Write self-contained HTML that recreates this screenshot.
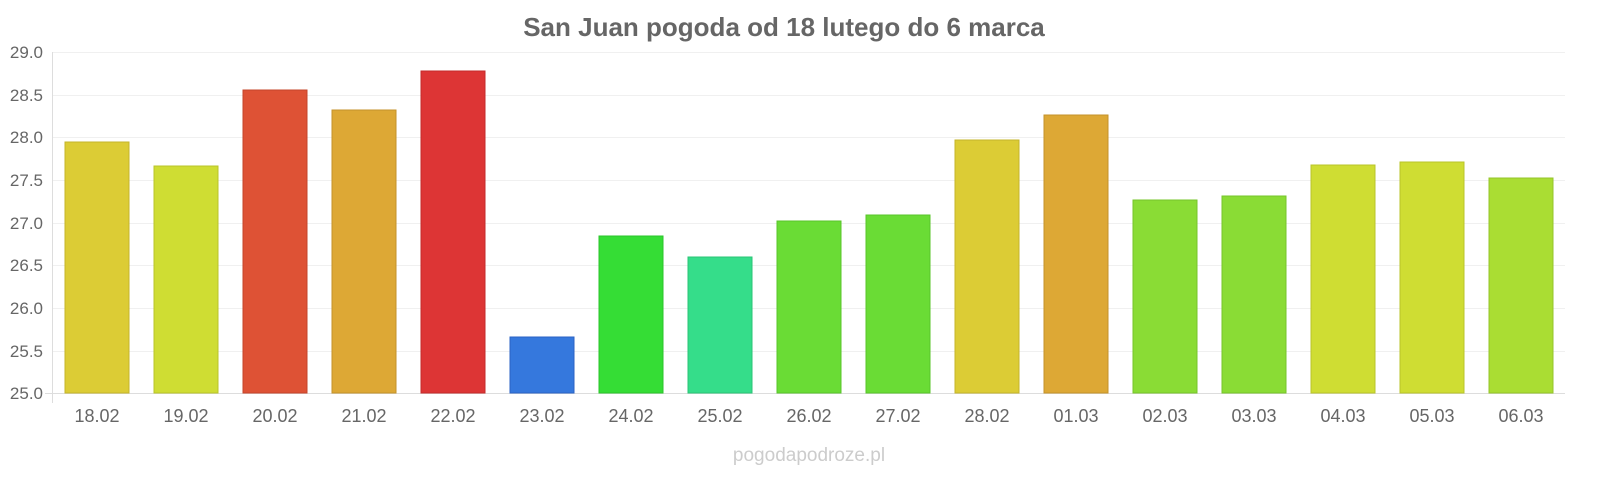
<!DOCTYPE html>
<html><head><meta charset="utf-8"><style>
html,body{margin:0;padding:0;background:#fff;overflow:hidden;width:1600px;height:480px;}
svg{display:block;}
svg text{font-family:"Liberation Sans",sans-serif;}
</style></head><body>
<svg width="1600" height="480" xmlns="http://www.w3.org/2000/svg">
<rect width="1600" height="480" fill="#fff"/>
<text x="784" y="36" text-anchor="middle" font-size="26" font-weight="bold" fill="#666">San Juan pogoda od 18 lutego do 6 marca</text>
<g stroke="#f0f0f0" stroke-width="1">
<line x1="53" y1="52.5" x2="1565" y2="52.5"/><line x1="53" y1="95.5" x2="1565" y2="95.5"/>
<line x1="53" y1="137.5" x2="1565" y2="137.5"/><line x1="53" y1="180.5" x2="1565" y2="180.5"/>
<line x1="53" y1="223.5" x2="1565" y2="223.5"/><line x1="53" y1="265.5" x2="1565" y2="265.5"/>
<line x1="53" y1="308.5" x2="1565" y2="308.5"/><line x1="53" y1="351.5" x2="1565" y2="351.5"/>
</g>
<line x1="52.5" y1="52" x2="52.5" y2="403" stroke="#ddd"/>
<line x1="45" y1="393.5" x2="1565" y2="393.5" stroke="#ddd"/>
<g font-size="17" fill="#666" text-anchor="end">
<text x="43" y="58">29.0</text><text x="43" y="101">28.5</text><text x="43" y="143">28.0</text><text x="43" y="186">27.5</text>
<text x="43" y="229">27.0</text><text x="43" y="271">26.5</text><text x="43" y="314">26.0</text><text x="43" y="357">25.5</text><text x="43" y="399">25.0</text>
</g>
<g stroke-width="1">
<rect x="65" y="142" width="64" height="251" fill="#dccc35" stroke="#c4b42a"/>
<rect x="154" y="166" width="64" height="227" fill="#cfdd33" stroke="#b8c42a"/>
<rect x="243" y="90" width="64" height="303" fill="#de5235" stroke="#c4442a"/>
<rect x="332" y="110" width="64" height="283" fill="#dda835" stroke="#c4922a"/>
<rect x="421" y="71" width="64" height="322" fill="#dd3535" stroke="#c42a2a"/>
<rect x="510" y="337" width="64" height="56" fill="#3578dd" stroke="#2a62c4"/>
<rect x="599" y="236" width="64" height="157" fill="#35dd35" stroke="#2ac42a"/>
<rect x="688" y="257" width="64" height="136" fill="#35dd8a" stroke="#2ac476"/>
<rect x="777" y="221" width="64" height="172" fill="#6adc35" stroke="#58c42a"/>
<rect x="866" y="215" width="64" height="178" fill="#6adc35" stroke="#58c42a"/>
<rect x="955" y="140" width="64" height="253" fill="#dccc35" stroke="#c4b42a"/>
<rect x="1044" y="115" width="64" height="278" fill="#dda835" stroke="#c4922a"/>
<rect x="1133" y="200" width="64" height="193" fill="#8adc35" stroke="#76c42a"/>
<rect x="1222" y="196" width="64" height="197" fill="#8adc35" stroke="#76c42a"/>
<rect x="1311" y="165" width="64" height="228" fill="#cfdd33" stroke="#b8c42a"/>
<rect x="1400" y="162" width="64" height="231" fill="#cfdd33" stroke="#b8c42a"/>
<rect x="1489" y="178" width="64" height="215" fill="#aadd33" stroke="#94c42a"/>
</g>
<g font-size="18" fill="#666" text-anchor="middle">
<text x="97" y="422">18.02</text><text x="186" y="422">19.02</text><text x="275" y="422">20.02</text><text x="364" y="422">21.02</text>
<text x="453" y="422">22.02</text><text x="542" y="422">23.02</text><text x="631" y="422">24.02</text><text x="720" y="422">25.02</text>
<text x="809" y="422">26.02</text><text x="898" y="422">27.02</text><text x="987" y="422">28.02</text><text x="1076" y="422">01.03</text>
<text x="1165" y="422">02.03</text><text x="1254" y="422">03.03</text><text x="1343" y="422">04.03</text><text x="1432" y="422">05.03</text>
<text x="1521" y="422">06.03</text>
</g>
<text x="809" y="461" text-anchor="middle" font-size="19" fill="#ccc">pogodapodroze.pl</text>
</svg>
</body></html>
